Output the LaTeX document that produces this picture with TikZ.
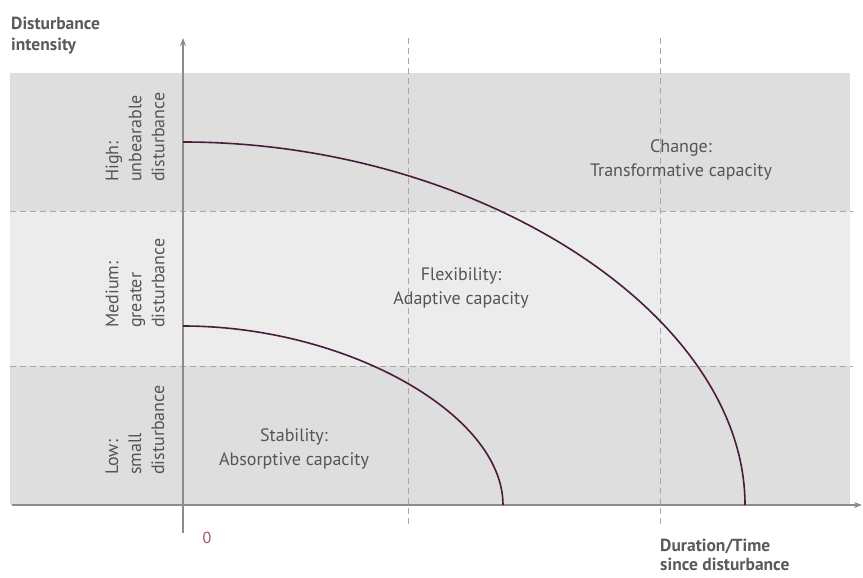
\documentclass[tikz,border=0pt]{standalone}
\usepackage{fontspec}
\setmainfont{PT Sans}
\usetikzlibrary{arrows.meta}
\definecolor{bandDark}{HTML}{DEDEDE}
\definecolor{bandLight}{HTML}{ECECEC}
\definecolor{axisGray}{HTML}{8C8C8C}
\definecolor{dashGray}{HTML}{A8A8A8}
\definecolor{textGray}{HTML}{555555}
\definecolor{titleGray}{HTML}{5A5A5A}
\definecolor{curvePlum}{HTML}{4A1B3C}
\definecolor{zeroRed}{HTML}{A3506E}
\begin{document}
\begin{tikzpicture}[x=1pt,y=-1pt,
  axisline/.style={draw=axisGray,line width=1.3pt,-{Stealth[length=8pt,width=6pt]}},
  gridline/.style={draw=dashGray,line width=0.9pt,dash pattern=on 6pt off 4pt},
  capacitycurve/.style={draw=curvePlum,line width=1.6pt},
  zonelabel/.style={text=textGray,font=\fontsize{18}{24}\selectfont,align=center,inner sep=0pt},
  levellabel/.style={text=textGray,font=\fontsize{18}{23}\selectfont,align=left,rotate=90,anchor=west,inner sep=0pt},
  axistitle/.style={text=titleGray,font=\fontsize{17.5}{21}\selectfont\bfseries,align=left,anchor=north west,inner sep=0pt}]
\useasboundingbox (0,0) rectangle (863,578);

% intensity bands
\fill[bandDark]  (10,73)  rectangle (850,211);
\fill[bandLight] (10,211) rectangle (850,366);
\fill[bandDark]  (10,366) rectangle (850,505);

% band borders and time thresholds
\draw[gridline] (10,211) -- (853,211);
\draw[gridline] (10,366) -- (853,366);
\draw[gridline] (408,38) -- (408,525);
\draw[gridline] (660,38) -- (660,525);

% axes
\coordinate (ybottom) at (183,533);
\coordinate (ytop) at (183,38);
\coordinate (xleft) at (12,505);
\coordinate (xright) at (862,505);
\draw[axisline] (ybottom) -- (ytop);
\draw[axisline] (xleft) -- (xright);

% capacity thresholds
\draw[capacitycurve] (183,142) .. controls (478,142) and (745,314) .. (745,505);
\draw[capacitycurve] (183,326) .. controls (346,326) and (503,414) .. (503,505);

% intensity levels
\node[levellabel] (high) at (135,182) {High:\\unbearable\\disturbance};
\node[levellabel] (medium) at (135,328) {Medium:\\greater\\disturbance};
\node[levellabel] (low) at (135,475) {Low:\\small\\disturbance};

% capacity zones
\node[zonelabel] (stability) at (294,449) {Stability:\\Absorptive capacity};
\node[zonelabel] (flexibility) at (461,288) {Flexibility:\\Adaptive capacity};
\node[zonelabel] (change) at (681,160) {Change:\\Transformative capacity};

% axis titles
\node[axistitle] (ytitle) at (11,17) {Disturbance\\intensity};
\node[axistitle,font=\fontsize{17.5}{19}\selectfont\bfseries] (xtitle) at (660,539) {Duration/Time\\since disturbance};
\node[text=zeroRed,font=\fontsize{16}{18}\selectfont,inner sep=0pt] (zero) at (207,538) {0};
\end{tikzpicture}
\end{document}
